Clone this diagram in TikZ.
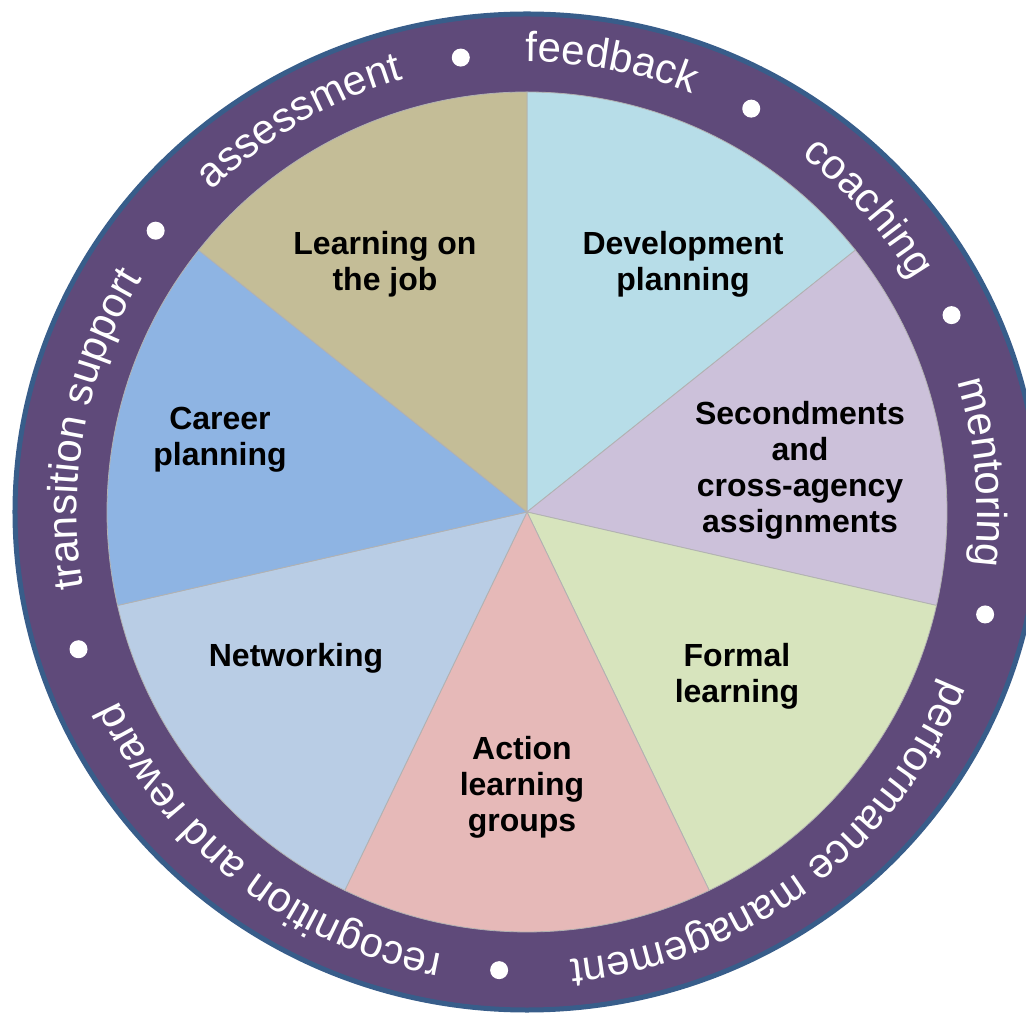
\documentclass[tikz,border=0pt]{standalone}
\usepackage{fontspec}
\setmainfont{Liberation Sans}
\usetikzlibrary{decorations.text}

\definecolor{ringpurple}{HTML}{5F4A7A}
\definecolor{ringblue}{HTML}{385D8A}
\definecolor{devblue}{HTML}{B7DDE8}
\definecolor{seclilac}{HTML}{CCC1DA}
\definecolor{formalgreen}{HTML}{D7E4BD}
\definecolor{actionpink}{HTML}{E6B9B8}
\definecolor{netblue}{HTML}{B9CDE5}
\definecolor{careerblue}{HTML}{8EB4E3}
\definecolor{jobtan}{HTML}{C4BD97}

\begin{document}
\begin{tikzpicture}[x=0.5pt,y=0.5pt,
    slice/.style={draw=gray!60,line width=0.4pt},
    main node/.style={align=center,font=\bfseries\fontsize{16}{18}\selectfont},
    ring text/.style={decorate,decoration={text along path,text align=center,
        text={|\color{white}\fontsize{21}{25}\selectfont|#1}}}]

    \useasboundingbox (-527,-503) rectangle (499,512);

    % outer ring
    \draw[fill=ringpurple,draw=ringblue,line width=2.5pt] (0,0) ellipse[x radius=512,y radius=498];

    % the seven slices
    \foreach \a/\c in {0/devblue,1/seclilac,2/formalgreen,3/actionpink,4/netblue,5/careerblue,6/jobtan}
        \filldraw[slice,fill=\c] (0,0) -- ({90-\a*360/7}:420)
            arc[start angle={90-\a*360/7},end angle={90-(\a+1)*360/7},radius=420] -- cycle;

    % words round the ring
    \path[ring text=feedback] (97.6:450) arc[start angle=97.6,end angle=61,radius=450];
    \path[ring text=coaching] (60:450) arc[start angle=60,end angle=23.4,radius=450];
    \path[ring text=mentoring] (24.4:450) arc[start angle=24.4,end angle=-14.4,radius=450];
    \path[ring text=performance management] (-12.9:450) arc[start angle=-12.9,end angle=-93.4,radius=450];
    \path[ring text=recognition and reward] (-93.4:450) arc[start angle=-93.4,end angle=-162.6,radius=450];
    \path[ring text=transition support] (196.6:450) arc[start angle=196.6,end angle=141.8,radius=450];
    \path[ring text=assessment] (142.2:450) arc[start angle=142.2,end angle=98.1,radius=450];

    \foreach \a in {98.1,61.5,25.4,-12.9,-93.4,-162.6,142.2}
        \fill[white] (\a:470 and 459) circle[radius=9];

    \node[main node] (dev) at (156,248) {Development\\planning};
    \node[main node] (sec) at (273,42) {Secondments\\and\\cross-agency\\assignments};
    \node[main node] (formal) at (210,-164) {Formal\\learning};
    \node[main node] (action) at (-5,-275) {Action\\learning\\groups};
    \node[main node] (net) at (-231,-146) {Networking};
    \node[main node] (career) at (-307,72) {Career\\planning};
    \node[main node] (job) at (-142,248) {Learning on\\the job};

\end{tikzpicture}
\end{document}
